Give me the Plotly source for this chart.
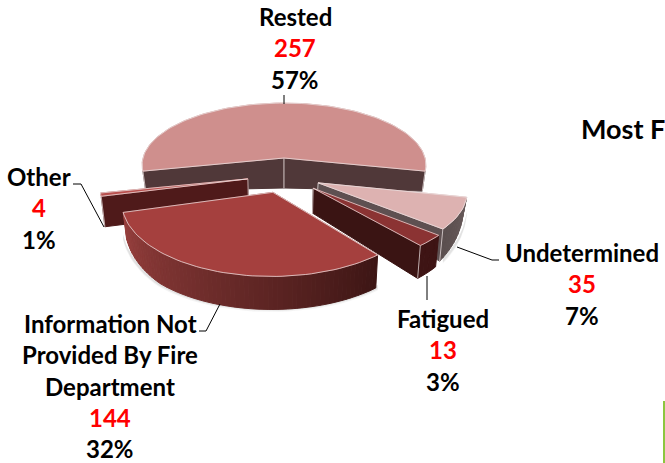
import math
import plotly.graph_objects as go

# ---- data ----
categories = ["Rested", "Undetermined", "Fatigued", "Information Not Provided By Fire Department", "Other"]
values = [257, 35, 13, 144, 4]
percents = ["57%", "7%", "3%", "32%", "1%"]

label_lines = [["Rested"], ["Undetermined"], ["Fatigued"],
               ["Information Not", "Provided By Fire", "Department"], ["Other"]]

# ---- styling / layout ----
W, H = 665, 463
CX, CY = 284.0, 158.0
RX, KY, P = 141.0, 61.0, 0.11
FONT = "Lato"
explode = [(0, 0), (0.232, -0.39), (0.196, -0.47), (-0.074, -0.53), (-0.247, -0.33)]
stretch = [1.0, 1.0, 1.0, 1.07, 1.0]
top_col = ["#CF8F8D", "#DDB2B1", "#8B3333", "#A5403E", "#B9504E"]
cut_col = ["#503839", "#5E5051", "#3A1413", "#3A1413", "#4F1A1A"]
rim_a = [(0x50, 0x38, 0x39), (0x6A, 0x5C, 0x5C), (0x3E, 0x14, 0x14), (0x3C, 0x15, 0x14), (0x4F, 0x1A, 0x1A)]
rim_b = [(0x50, 0x38, 0x39), (0x5A, 0x4E, 0x4E), (0x3E, 0x14, 0x14), (0x98, 0x40, 0x3E), (0x4F, 0x1A, 0x1A)]
depth_par = [(30, 0), (-4, 35), (20, 10.4), (12.6, 15.7), (30, 0)]
EDGE = "rgba(235,225,225,0.75)"


def proj(X, Y):
    s = 1 / (1 + P * Y)
    return CX + RX * X * s, CY - KY * Y * s


def depth(i, Y, r):
    if i == 0:
        return 30 - 10 * r
    a, b = depth_par[i]
    return min(33, a - b * Y)


def low(x, y, d):
    return CX + (x - CX) * 0.98, y + d


fig = go.Figure()


def poly(xs, ys, fill, line=None, width=1):
    fig.add_trace(go.Scatter(x=xs, y=ys, mode="lines", fill="toself", fillcolor=fill,
                             line=dict(color=line or fill, width=width),
                             hoverinfo="skip", showlegend=False))


def edge_line(xs, ys):
    fig.add_trace(go.Scatter(x=xs, y=ys, mode="lines", line=dict(color=EDGE, width=1),
                             hoverinfo="skip", showlegend=False))


total = sum(values)
sweeps = [v / total * 360 for v in values]
start = -sweeps[0] / 2
spans = []
for sw in sweeps:
    spans.append((start, start + sw))
    start += sw


def point(i, ang, r=1.0):
    a = math.radians(ang)
    ex, ey = explode[i]
    wx, wy = ex + r * math.sin(a), ey + r * math.cos(a) * stretch[i]
    x, y = proj(wx, wy)
    return x, y, wy


def cut_face(i, ang, col):
    x0, y0, w0 = point(i, ang, 0)
    x1, y1, w1 = point(i, ang, 1)
    bx0, by0 = low(x0, y0, depth(i, w0, 0))
    bx1, by1 = low(x1, y1, depth(i, w1, 1))
    poly([x0, x1, bx1, bx0, x0], [y0, y1, by1, by0, y0], col)
    edge_line([x0, bx0], [y0, by0])
    edge_line([x1, bx1], [y1, by1])


def rim(i, a0, a1, n):
    for k in range(n):
        t0, t1 = k / n, (k + 1) / n
        A0, A1 = a0 + (a1 - a0) * t0, a0 + (a1 - a0) * t1
        x0, y0, w0 = point(i, A0)
        x1, y1, w1 = point(i, A1)
        bx0, by0 = low(x0, y0, depth(i, w0, 1))
        bx1, by1 = low(x1, y1, depth(i, w1, 1))
        c = [round(p + (q - p) * (t0 + t1) / 2) for p, q in zip(rim_a[i], rim_b[i])]
        col = f"rgb({c[0]},{c[1]},{c[2]})"
        poly([x0, x1, bx1, bx0, x0], [y0, y1, by1, by0, y0], col)


def top(i):
    a0, a1 = spans[i]
    n = max(8, int((a1 - a0) / 2))
    pts = [point(i, a0 + (a1 - a0) * k / n) for k in range(n + 1)]
    ax, ay, _ = point(i, a0, 0)
    xs = [ax] + [p[0] for p in pts] + [ax]
    ys = [ay] + [p[1] for p in pts] + [ay]
    poly(xs, ys, top_col[i])
    edge_line(xs, ys)


def shadow(i, a0, a1, off, alpha):
    n = 40
    xs, ys = [], []
    for k in range(n + 1):
        x, y, w = point(i, a0 + (a1 - a0) * k / n)
        xs.append(x)
        ys.append(y + depth(i, w, 1) + off)
    for k in range(n, -1, -1):
        x, y, w = point(i, a0 + (a1 - a0) * k / n)
        xs.append(x)
        ys.append(y + depth(i, w, 1) - 3)
    poly(xs, ys, f"rgba(120,120,120,{alpha})", "rgba(120,120,120,0)", 0)


# soft shadows under the outer rims
for off, al in ((2.5, 0.08), (1.2, 0.14)):
    shadow(3, spans[3][0], spans[3][1], off, al)
    shadow(1, spans[1][0], spans[1][1], off, al)

# Rested (back)
rest_a0, rest_a1 = spans[0]
cut_face(0, rest_a0, cut_col[0])
cut_face(0, rest_a1, cut_col[0])
top(0)
# Other
cut_face(4, spans[4][0], cut_col[4])
top(4)
# Undetermined
rim(1, spans[1][0], spans[1][1], 12)
cut_face(1, spans[1][1], cut_col[1])
top(1)
# Fatigued
rim(2, spans[2][0], spans[2][1], 4)
cut_face(2, spans[2][1], cut_col[2])
top(2)
# Information Not Provided
rim(3, spans[3][0], spans[3][1], 70)
top(3)

# ---- leader lines ----
leaders = [
    ([284, 284], [95, 104]),
    ([73, 81, 104], [184, 184, 227]),
    ([457, 492, 499], [247, 260, 260]),
    ([427, 427], [276, 300]),
    ([199, 206, 220], [331, 331, 304]),
]
for xs, ys in leaders:
    fig.add_trace(go.Scatter(x=xs, y=ys, mode="lines", line=dict(color="#000000", width=1),
                             hoverinfo="skip", showlegend=False))

# ---- labels ----
label_pos = [(295, 16), (582, 252), (443, 318), (110, 323), (39, 176)]
STEP = 31.5
anns = []


def txt(x, y, s, color="#000000", size=24):
    anns.append(dict(x=x, y=min(y, H - 15), text=f"<b>{s}</b>", showarrow=False, xref="x", yref="y",
                     xanchor="center", yanchor="middle",
                     font=dict(family=FONT, size=size, color=color)))


for lines, v, pc, (x, y) in zip(label_lines, values, percents, label_pos):
    for j, s in enumerate(lines + [str(v), pc]):
        color = "#FF0000" if j == len(lines) else "#000000"
        txt(x, y + j * STEP, s, color)

anns.append(dict(x=579, y=128, text="<b>Most F</b>", showarrow=False, xref="x", yref="y",
                 xanchor="left", yanchor="middle", font=dict(family=FONT, size=27, color="#000000")))

fig.update_layout(
    width=W, height=H, margin=dict(l=0, r=0, t=0, b=0), autosize=False,
    paper_bgcolor="#FFFFFF", plot_bgcolor="#FFFFFF", showlegend=False,
    xaxis=dict(range=[0, W], visible=False, fixedrange=True),
    yaxis=dict(range=[H, 0], visible=False, fixedrange=True),
    annotations=anns,
    shapes=[dict(type="rect", x0=663, x1=666, y0=401, y1=464, xref="x", yref="y",
                 fillcolor="#8CC63F", line=dict(width=0))],
)
fig.write_html("out.html", config={"displayModeBar": False},
               post_script="document.body.style.margin='0';")
